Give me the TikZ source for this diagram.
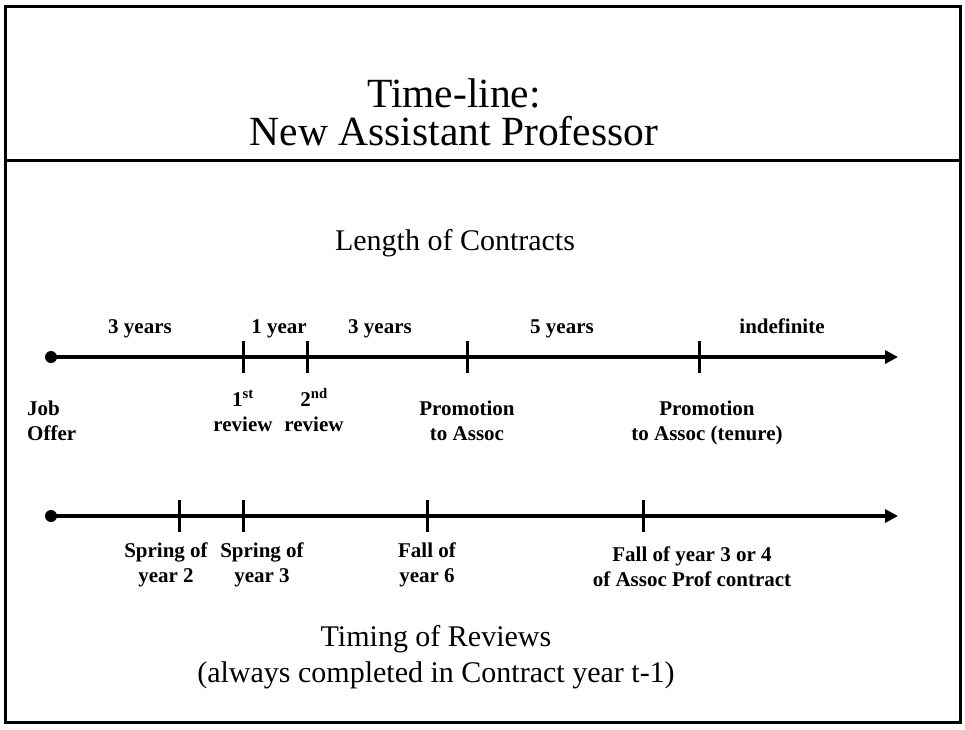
\documentclass[tikz,border=0pt]{standalone}
\usepackage{fontspec}
\setmainfont{Liberation Serif}
\tikzset{
  bigtext/.style={font=\fontsize{41.5}{38}\selectfont, anchor=base, align=center, inner sep=0pt},
  midtext/.style={font=\fontsize{30}{36}\selectfont, anchor=base, align=center, inner sep=0pt},
  lbl/.style={font=\fontsize{21}{25}\selectfont\bfseries, anchor=base, align=center, inner sep=0pt},
  axis/.style={line width=4pt, -{Triangle[length=13pt,width=13pt]}},
  tickmark/.style={line width=3pt}
}
\usetikzlibrary{arrows.meta}
\begin{document}
\begin{tikzpicture}[x=1pt,y=-1pt]
\useasboundingbox (0,0) rectangle (965,729);

% frame and title
\draw[line width=3pt] (5,6) rectangle (960,722);
\draw[line width=3pt] (5,160) -- (960,160);
\node[bigtext] (title) at (454,145) {Time-line:\\New Assistant Professor};

% contracts
\node[midtext] (contracts) at (455,250) {Length of Contracts};
\coordinate (cstart) at (51,357);
\coordinate (cend) at (898,357);
\draw[axis] (cstart) -- (cend);
\fill (cstart) circle (6);

\draw[tickmark] (243,341) -- (243,373);
\draw[tickmark] (307,341) -- (307,373);
\draw[tickmark] (467,341) -- (467,373);
\draw[tickmark] (699,341) -- (699,373);

\node[lbl] (len1) at (140,333) {3 years};
\node[lbl] (len2) at (279,333) {1 year};
\node[lbl] (len3) at (380,333) {3 years};
\node[lbl] (len4) at (562,333) {5 years};
\node[lbl] (len5) at (782,333) {indefinite};

\node[lbl, anchor=base west, align=left] (offer) at (27,440) {Job\\Offer};
\node[lbl] (rev1) at (243,431) {1\textsuperscript{st}\\review};
\node[lbl] (rev2) at (314,431) {2\textsuperscript{nd}\\review};
\node[lbl] (assoc) at (467,440) {Promotion\\to Assoc};
\node[lbl] (tenure) at (707,440) {Promotion\\to Assoc (tenure)};

% reviews
\coordinate (rstart) at (51,516);
\coordinate (rend) at (898,516);
\draw[axis] (rstart) -- (rend);
\fill (rstart) circle (6);

\draw[tickmark] (179,500) -- (179,532);
\draw[tickmark] (243,500) -- (243,532);
\draw[tickmark] (427,500) -- (427,532);
\draw[tickmark] (643,500) -- (643,532);

\node[lbl] (spr2) at (166,582) {Spring of\\year 2};
\node[lbl] (spr3) at (262,582) {Spring of\\year 3};
\node[lbl] (fall6) at (427,582) {Fall of\\year 6};
\node[lbl] (fallassoc) at (692,586) {Fall of year 3 or 4\\of Assoc Prof contract};

\node[midtext] (timing) at (436,682) {Timing of Reviews\\(always completed in Contract year t-1)};
\end{tikzpicture}
\end{document}
